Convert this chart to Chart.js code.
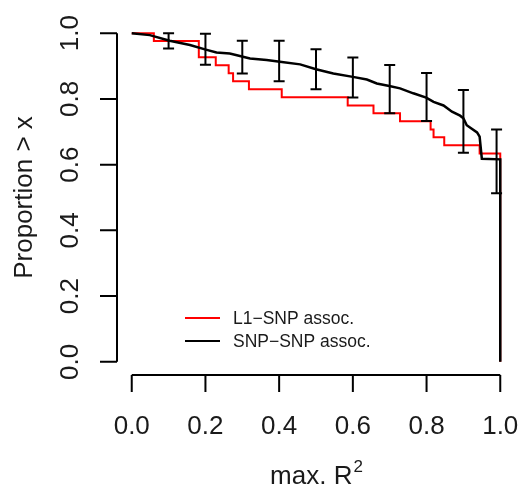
<!DOCTYPE html>
<html>
<head>
<meta charset="utf-8">
<script src="https://cdn.jsdelivr.net/npm/chart.js@4/dist/chart.umd.min.js"></script>
<style>
  body { margin: 0; background: #fff; }
  .wrap { position: relative; width: 520px; height: 486px; }
</style>
</head>
<body>
<div class="wrap"><canvas id="chart"></canvas></div>
<script>
// L1-SNP survival steps (red)
const redX = [0, 0.06, 0.182, 0.228, 0.263, 0.275, 0.318, 0.407, 0.586, 0.656, 0.728, 0.811, 0.819, 0.848, 0.944, 1.0];
const redY = [1.0, 0.976, 0.927, 0.902, 0.878, 0.854, 0.829, 0.805, 0.780, 0.756, 0.732, 0.707, 0.683, 0.659, 0.634, 0];

// SNP-SNP curve (black)
const blackX = [0, 0.049, 0.103, 0.158, 0.201, 0.230, 0.266, 0.321, 0.366, 0.402, 0.457, 0.5, 0.547, 0.6, 0.638, 0.665, 0.699, 0.728, 0.764, 0.799, 0.819, 0.846, 0.869, 0.891, 0.9, 0.909, 0.937, 0.944, 0.950, 1.0, 1.0];
const blackY = [1.0, 0.994, 0.977, 0.964, 0.950, 0.941, 0.938, 0.923, 0.918, 0.913, 0.905, 0.890, 0.877, 0.867, 0.859, 0.847, 0.839, 0.832, 0.817, 0.804, 0.791, 0.780, 0.761, 0.749, 0.741, 0.720, 0.698, 0.685, 0.618, 0.616, 0];

// error bars on the black curve
const errX = [0.1, 0.2, 0.3, 0.4, 0.5, 0.6, 0.7, 0.8, 0.9, 0.99];
const errHi = [1.0, 0.998, 0.977, 0.977, 0.951, 0.926, 0.903, 0.879, 0.827, 0.707];
const errLo = [0.953, 0.904, 0.877, 0.854, 0.829, 0.804, 0.756, 0.733, 0.636, 0.513];

const xTicks = [0, 0.2, 0.4, 0.6, 0.8, 1.0];
const xTickLabels = ["0.0", "0.2", "0.4", "0.6", "0.8", "1.0"];
const yTicks = [0, 0.2, 0.4, 0.6, 0.8, 1.0];
const yTickLabels = ["0.0", "0.2", "0.4", "0.6", "0.8", "1.0"];

const legendLabels = ["L1\u2212SNP assoc.", "SNP\u2212SNP assoc."];
const legendColors = ["#ff0000", "#000000"];

const font = '"Liberation Sans", Arial, Helvetica, sans-serif';

function toPoints(xs, ys) {
  return xs.map((x, i) => ({ x: x, y: ys[i] }));
}

const errorBars = {
  id: "errorBars",
  afterDatasetsDraw(chart) {
    const ctx = chart.ctx;
    const sx = chart.scales.x;
    const sy = chart.scales.y;
    ctx.save();
    ctx.strokeStyle = "#000";
    ctx.lineWidth = 2;
    errX.forEach((x, i) => {
      const px = sx.getPixelForValue(x);
      const top = sy.getPixelForValue(errHi[i]);
      const bot = sy.getPixelForValue(errLo[i]);
      ctx.beginPath();
      ctx.moveTo(px, top);
      ctx.lineTo(px, bot);
      ctx.moveTo(px - 5.5, top);
      ctx.lineTo(px + 5.5, top);
      ctx.moveTo(px - 5.5, bot);
      ctx.lineTo(px + 5.5, bot);
      ctx.stroke();
    });
    ctx.restore();
  }
};

// R style axes, drawn off the plot region
const rAxes = {
  id: "rAxes",
  afterDraw(chart) {
    const ctx = chart.ctx;
    const sx = chart.scales.x;
    const sy = chart.scales.y;
    const area = chart.chartArea;
    ctx.save();
    ctx.strokeStyle = "#000";
    ctx.fillStyle = "#1a1a1a";
    ctx.lineWidth = 2;

    // x axis
    const ax = area.bottom;
    ctx.beginPath();
    ctx.moveTo(sx.getPixelForValue(xTicks[0]), ax);
    ctx.lineTo(sx.getPixelForValue(xTicks[xTicks.length - 1]), ax);
    xTicks.forEach((t) => {
      const px = sx.getPixelForValue(t);
      ctx.moveTo(px, ax);
      ctx.lineTo(px, ax + 17);
    });
    ctx.stroke();
    ctx.font = "26px " + font;
    ctx.textAlign = "center";
    ctx.textBaseline = "alphabetic";
    xTicks.forEach((t, i) => {
      ctx.fillText(xTickLabels[i], sx.getPixelForValue(t), ax + 59);
    });

    // y axis
    const ay = area.left;
    ctx.beginPath();
    ctx.moveTo(ay, sy.getPixelForValue(yTicks[0]));
    ctx.lineTo(ay, sy.getPixelForValue(yTicks[yTicks.length - 1]));
    yTicks.forEach((t) => {
      const py = sy.getPixelForValue(t);
      ctx.moveTo(ay, py);
      ctx.lineTo(ay - 17, py);
    });
    ctx.stroke();
    yTicks.forEach((t, i) => {
      ctx.save();
      ctx.translate(ay - 39, sy.getPixelForValue(t));
      ctx.rotate(-Math.PI / 2);
      ctx.fillText(yTickLabels[i], 0, 0);
      ctx.restore();
    });

    // titles
    const midX = (area.left + area.right) / 2;
    ctx.textAlign = "left";
    const mainW = ctx.measureText("max. R").width;
    ctx.font = "17px " + font;
    const supW = ctx.measureText("2").width;
    const startX = midX - (mainW + supW) / 2;
    ctx.font = "26px " + font;
    ctx.fillText("max. R", startX, 484);
    ctx.font = "17px " + font;
    ctx.fillText("2", startX + mainW + 1, 472);

    ctx.font = "26px " + font;
    ctx.textAlign = "center";
    ctx.save();
    ctx.translate(32, (area.top + area.bottom) / 2);
    ctx.rotate(-Math.PI / 2);
    ctx.fillText("Proportion > x", 0, 0);
    ctx.restore();

    // legend, no box
    ctx.font = "17.5px " + font;
    ctx.textAlign = "left";
    ctx.textBaseline = "middle";
    legendLabels.forEach((label, i) => {
      const ly = 318 + i * 23;
      ctx.strokeStyle = legendColors[i];
      ctx.lineWidth = 2.2;
      ctx.beginPath();
      ctx.moveTo(185, ly);
      ctx.lineTo(220, ly);
      ctx.stroke();
      ctx.fillText(label, 233, ly + 1);
    });
    ctx.restore();
  }
};

new Chart(document.getElementById("chart"), {
  type: "line",
  data: {
    datasets: [
      {
        label: legendLabels[0],
        data: toPoints(redX, redY),
        borderColor: "#ff0000",
        borderWidth: 2,
        stepped: "before",
        pointRadius: 0,
        fill: false,
        order: 2
      },
      {
        label: legendLabels[1],
        data: toPoints(blackX, blackY),
        borderColor: "#000000",
        borderWidth: 2.5,
        pointRadius: 0,
        tension: 0,
        fill: false,
        order: 1
      }
    ]
  },
  options: {
    responsive: true,
    maintainAspectRatio: false,
    animation: false,
    layout: { padding: { left: 117, right: 5, top: 20, bottom: 111 } },
    scales: {
      x: { type: "linear", min: -0.04, max: 1.04, display: false },
      y: { type: "linear", min: -0.04, max: 1.04, display: false }
    },
    plugins: {
      legend: { display: false },
      tooltip: { enabled: false }
    }
  },
  plugins: [errorBars, rAxes]
});
</script>
</body>
</html>
